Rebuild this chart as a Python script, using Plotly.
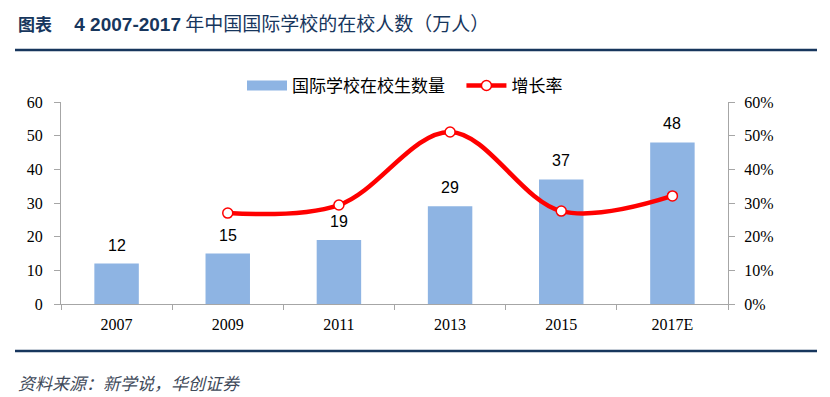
import plotly.graph_objects as go

categories = ["2007", "2009", "2011", "2013", "2015", "2017E"]
students = [12, 15, 19, 29, 37, 48]
growth = [None, 0.27, 0.294, 0.511, 0.276, 0.321]
student_labels = ["12", "15", "19", "29", "37", "48"]
left_ticks = [0, 10, 20, 30, 40, 50, 60]
right_ticks = [0, 0.1, 0.2, 0.3, 0.4, 0.5, 0.6]

title_text = ("<b>图表　</b>"
              "<b><span style='font-family:Liberation Sans;font-size:19px'> 4 2007-2017</span></b>"
              "<span style='font-size:19px'> 年中国国际学校的在校人数（万人）</span>")
source_text = "<i>资料来源：新学说，华创证券</i>"

navy = "#17365D"
bar_color = "#8EB4E3"
axis_gray = "#A6A6A6"
serif = "Liberation Serif, Times New Roman, serif"
sans = "Liberation Sans, Arial, Noto Sans CJK SC, sans-serif"
cjk = "Noto Sans CJK SC, sans-serif"

fig = go.Figure()
fig.add_trace(go.Bar(
    x=categories, y=students, name="国际学校在校生数量",
    marker=dict(color=bar_color, line=dict(width=0)),
    showlegend=False, yaxis="y",
))
# legend swatch for the bar series (wide rectangle like the reference)
fig.add_trace(go.Scatter(
    x=categories, y=[None] * len(categories), name="国际学校在校生数量\u00a0\u00a0\u00a0",
    mode="lines", line=dict(color=bar_color, width=10), yaxis="y", hoverinfo="skip",
))
fig.add_trace(go.Scatter(
    x=categories, y=growth, name="增长率", mode="lines+markers",
    line=dict(color="#FF0000", width=4.5, shape="spline", smoothing=1.0),
    marker=dict(symbol="circle", size=10, color="#FFFFFF",
                line=dict(color="#FF0000", width=1.5)),
    yaxis="y2", connectgaps=False,
))

annotations = []
for i, (v, t) in enumerate(zip(students, student_labels)):
    annotations.append(dict(x=i, y=v, xref="x", yref="y", text=t, showarrow=False,
                            yanchor="bottom", yshift=8,
                            font=dict(family=sans, size=16, color="#000000")))

annotations += [
    dict(text=title_text, xref="paper", yref="paper",
         x=-45/667, y=(304-22)/202, xanchor="left", yanchor="middle",
         showarrow=False, font=dict(family=cjk, size=17, color=navy)),
    dict(text=source_text, xref="paper", yref="paper",
         x=-45/667, y=(304-382)/202, xanchor="left", yanchor="middle",
         showarrow=False, font=dict(family=cjk, size=17, color="#3F4A5A")),
]

fig.update_layout(
    width=830, height=397,
    margin=dict(l=61, r=102, t=102, b=93),
    paper_bgcolor="#FFFFFF", plot_bgcolor="#FFFFFF",
    bargap=0.6,
    showlegend=True,
    legend=dict(orientation="h", x=(405-61)/667, xanchor="center", y=(304-86)/202, yanchor="middle",
                font=dict(family=cjk, size=17, color="#000000"),
                itemwidth=40, tracegroupgap=0, bgcolor="rgba(0,0,0,0)"),
    xaxis=dict(type="category", categoryorder="array", categoryarray=categories,
               showline=True, linecolor=axis_gray, linewidth=1,
               ticks="outside", tickson="boundaries", ticklen=5, tickcolor=axis_gray,
               ticklabelstandoff=6, tickangle=0,
               tickfont=dict(family=serif, size=16, color="#000000"),
               showgrid=False, zeroline=False),
    yaxis=dict(range=[0, 60], tickvals=left_ticks, showline=True, linecolor=axis_gray,
               linewidth=1, ticks="outside", ticklen=6, tickcolor=axis_gray,
               ticklabelstandoff=8,
               tickfont=dict(family=serif, size=16, color="#000000"),
               showgrid=False, zeroline=False),
    yaxis2=dict(range=[0, 0.6], tickvals=right_ticks, tickformat=".0%", overlaying="y",
                side="right", showline=True, linecolor=axis_gray, linewidth=1,
                ticks="outside", ticklen=6, tickcolor=axis_gray,
                ticklabelstandoff=6,
                tickfont=dict(family=serif, size=16, color="#000000"),
                showgrid=False, zeroline=False),
    shapes=[
        dict(type="line", xref="paper", yref="paper",
             x0=-46/667, x1=756/667, y0=(304-50)/202, y1=(304-50)/202,
             line=dict(color=navy, width=2.5)),
        dict(type="line", xref="paper", yref="paper",
             x0=-46/667, x1=756/667, y0=(304-351)/202, y1=(304-351)/202,
             line=dict(color=navy, width=2.5)),
    ],
    annotations=annotations,
)

fig.write_html("out.html", config={"displayModeBar": False},
               post_script="document.body.style.margin='0';document.body.style.overflow='hidden';")
